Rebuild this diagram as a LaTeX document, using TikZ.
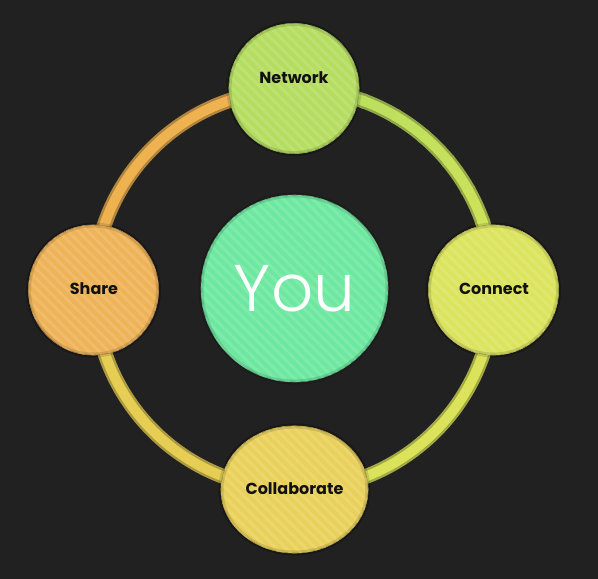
\documentclass[tikz,border=0pt]{standalone}
\usepackage{fontspec}
\setmainfont{Poppins}
\newfontfamily\youfont{Poppins Light}
\usetikzlibrary{patterns.meta,shapes.geometric}
\definecolor{bg}{HTML}{212121}
\definecolor{cnet}{HTML}{B5DD60}
\definecolor{cyou}{HTML}{6DE8A0}
\definecolor{ccon}{HTML}{DCE45E}
\definecolor{cshare}{HTML}{EEB257}
\definecolor{ccol}{HTML}{E9D05A}
\definecolor{rnw}{HTML}{EEB250}
\definecolor{rne1}{HTML}{B5DE5E}
\definecolor{rne2}{HTML}{D4E35A}
\definecolor{rse}{HTML}{DAE35A}
\definecolor{rsw}{HTML}{E6CE55}
\definecolor{txt}{HTML}{111111}
\tikzset{
  bubble/.style={circle, minimum size=130pt, inner sep=0pt, fill=#1,
    draw=#1!75!black, line width=0.6pt,
    postaction={pattern={Lines[angle=-45,distance=7pt,line width=3pt]}, pattern color=#1!88!white},
    postaction={draw=black, draw opacity=0.12, line width=5pt}},
  lbl/.style={text=txt, font=\bfseries\fontsize{16}{19}\selectfont},
  tube/.style={line width=15pt, draw=#1!75!black},
  tubein/.style={line width=10pt, draw=#1},
}
\begin{document}
\begin{tikzpicture}[x=1pt,y=-1pt]
\fill[bg] (0,0) rectangle (598,579);
\useasboundingbox (0,0) rectangle (598,579);
% node positions
\node[bubble=cshare] (share) at (93.5,290) {};
\node[bubble=cnet] (network) at (294,88.5) {};
\node[bubble=ccon] (connect) at (493.5,290) {};
\node[bubble=ccol, ellipse, minimum width=147pt, minimum height=127pt] (collab) at (294.5,489.5) {};
\node[bubble=cyou, minimum size=187pt] (you) at (294.5,288.5) {};
% ring arcs
\draw[tube=rnw] (share.center) arc[start angle=180,end angle=270,radius=200];
\draw[tube=rse] (connect.center) arc[start angle=0,end angle=90,radius=200];
\draw[tube=rsw] (collab.center) arc[start angle=90,end angle=180,radius=200];
\foreach \i in {0,...,8}{
  \pgfmathsetmacro{\p}{100-\i*12.5}
  \path (network.center) arc[start angle=270,end angle={270+10*\i},radius=200] coordinate (ne\i);
  \draw[tube=rne1!\p!rne2] (ne\i) arc[start angle={270+10*\i},end angle={281+10*\i},radius=200];
}
\draw[tubein=rnw] (share.center) arc[start angle=180,end angle=270,radius=200];
\draw[tubein=rse] (connect.center) arc[start angle=0,end angle=90,radius=200];
\draw[tubein=rsw] (collab.center) arc[start angle=90,end angle=180,radius=200];
\foreach \i in {0,...,8}{
  \pgfmathsetmacro{\p}{100-\i*12.5}
  \draw[tubein=rne1!\p!rne2] (ne\i) arc[start angle={270+10*\i},end angle={281+10*\i},radius=200];
}
% redraw nodes on top of ring
\node[bubble=cshare] at (share.center) {};
\node[bubble=cnet] at (network.center) {};
\node[bubble=ccon] at (connect.center) {};
\node[bubble=ccol, ellipse, minimum width=147pt, minimum height=127pt] at (collab.center) {};
% labels
\node[lbl] (tnet) at (294,78) {Network};
\node[lbl] (tshare) at (94,289) {Share};
\node[lbl] (tcon) at (494,289) {Connect};
\node[lbl] (tcol) at (294.5,488.5) {Collaborate};
\node[text=white, font=\youfont\fontsize{66}{70}\selectfont] (tyou) at (you.center) {You};
\end{tikzpicture}
\end{document}
